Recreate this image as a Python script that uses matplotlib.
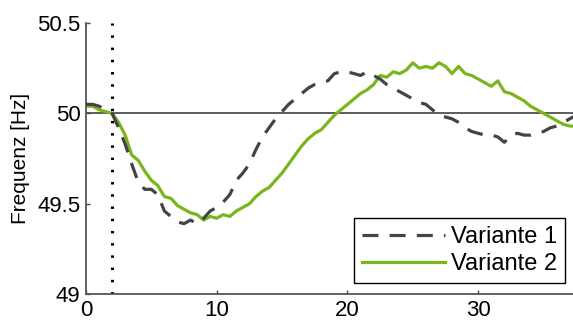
import matplotlib.pyplot as plt

# Zeit [s] und Frequenz [Hz]
t = [i * 0.5 for i in range(76)]

variante1 = [50.05, 50.05, 50.04, 50.02, 50.00, 49.92, 49.83, 49.72, 49.62, 49.58,
             49.58, 49.55, 49.46, 49.43, 49.40, 49.39, 49.41, 49.39, 49.42, 49.46,
             49.48, 49.51, 49.55, 49.63, 49.67, 49.72, 49.80, 49.87, 49.92, 49.97,
             50.01, 50.05, 50.08, 50.11, 50.14, 50.16, 50.17, 50.18, 50.22, 50.23,
             50.23, 50.22, 50.21, 50.23, 50.21, 50.19, 50.16, 50.14, 50.12, 50.10,
             50.08, 50.06, 50.05, 50.02, 49.99, 49.98, 49.97, 49.95, 49.92, 49.90,
             49.89, 49.88, 49.88, 49.87, 49.84, 49.88, 49.89, 49.88, 49.88, 49.89,
             49.90, 49.92, 49.93, 49.95, 49.97, 49.99]

variante2 = [50.04, 50.04, 50.02, 50.01, 50.00, 49.95, 49.88, 49.77, 49.74, 49.68,
             49.63, 49.60, 49.54, 49.53, 49.49, 49.47, 49.45, 49.44, 49.41, 49.43,
             49.42, 49.44, 49.43, 49.46, 49.48, 49.50, 49.54, 49.57, 49.59, 49.63,
             49.67, 49.72, 49.77, 49.82, 49.86, 49.89, 49.91, 49.95, 49.99, 50.02,
             50.05, 50.08, 50.11, 50.13, 50.16, 50.21, 50.20, 50.23, 50.22, 50.24,
             50.28, 50.25, 50.26, 50.25, 50.28, 50.26, 50.22, 50.26, 50.22, 50.21,
             50.19, 50.17, 50.15, 50.18, 50.12, 50.11, 50.09, 50.07, 50.04, 50.02,
             50.00, 49.98, 49.96, 49.94, 49.93, 49.93]

t_fehler = 2.0
f_nenn = 50.0
xticks = [0, 10, 20, 30]
yticks = [49, 49.5, 50, 50.5]
ytick_labels = ['49', '49.5', '50', '50.5']

plt.rcParams['font.family'] = ['Liberation Sans', 'DejaVu Sans']

fig = plt.figure(figsize=(5.73, 3.24), dpi=100)
ax = fig.add_axes([0.150, 0.092, 0.850, 0.837])

ax.axhline(f_nenn, color='#303030', lw=1.1, zorder=1)
ax.axvline(t_fehler, color='black', lw=2.2, linestyle=(0, (0.8, 3.2)), zorder=1)

ax.plot(t, variante1, color='#444444', lw=2.3, linestyle=(0, (5, 3.5)),
        label='Variante 1', zorder=3)
ax.plot(t, variante2, color='#7ab51d', lw=2.3, label='Variante 2', zorder=2)

ax.set_xlim(0, 37.25)
ax.set_ylim(49, 50.5)
ax.set_xticks(xticks)
ax.set_yticks(yticks)
ax.set_yticklabels(ytick_labels)
ax.tick_params(direction='in', length=3, width=1, labelsize=16, pad=4,
               colors='#444444', labelcolor='black')
ax.spines['top'].set_visible(False)
ax.spines['right'].set_visible(False)
for s in ['left', 'bottom']:
    ax.spines[s].set_color('#555555')
    ax.spines[s].set_linewidth(1.3)

ax.set_ylabel('Frequenz [Hz]', fontsize=15, labelpad=5)

leg = ax.legend(loc='lower right', bbox_to_anchor=(0.984, 0.04), borderaxespad=0,
                fontsize=17, handlelength=3.5, handletextpad=0.25,
                labelspacing=0.22, borderpad=0.35, fancybox=False, framealpha=1)
leg.get_frame().set_edgecolor('black')
leg.get_frame().set_linewidth(1.0)

fig.savefig('out.png', dpi=100)
